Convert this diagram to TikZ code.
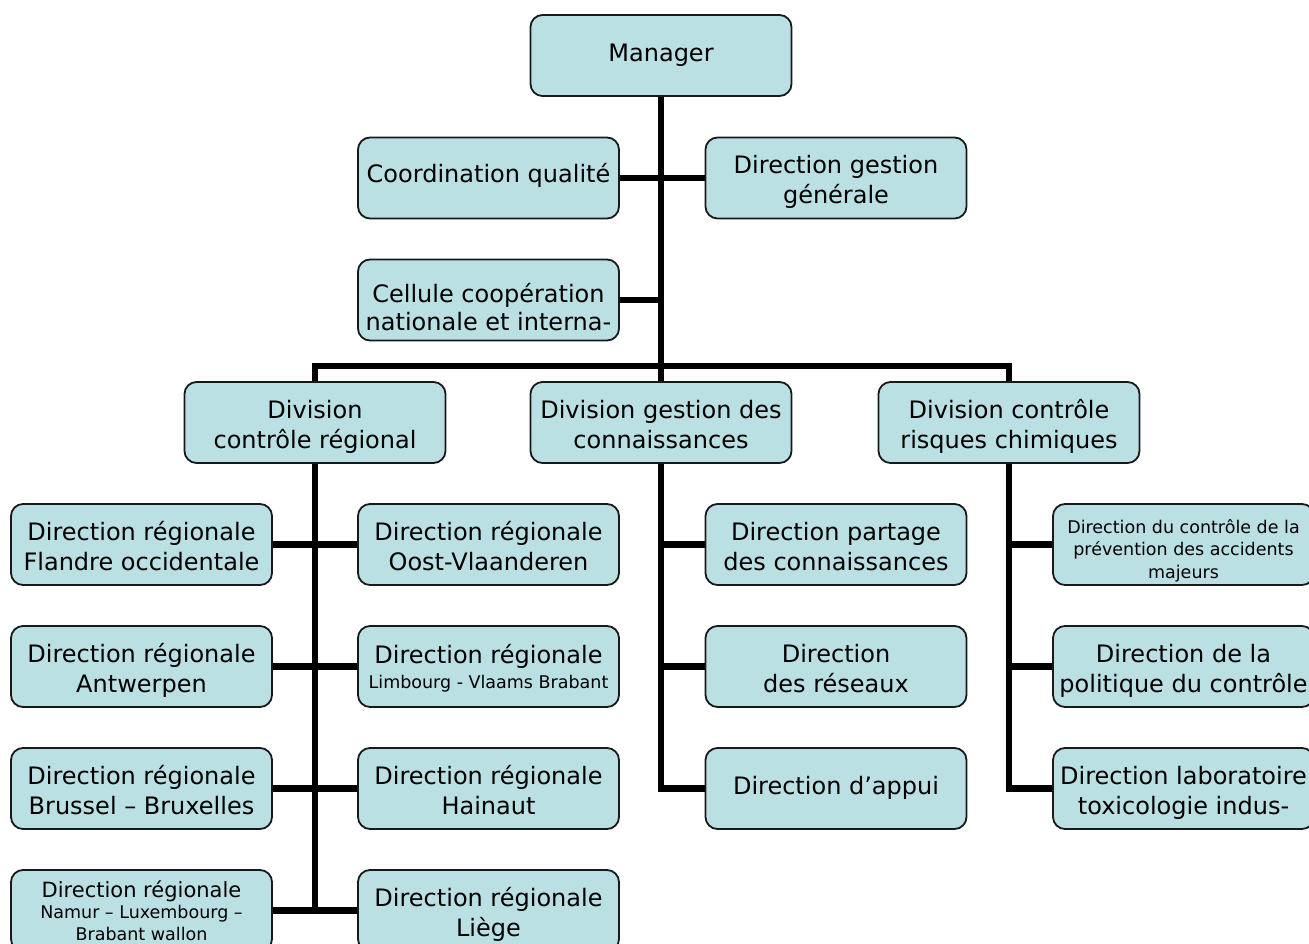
\documentclass[tikz,border=0pt]{standalone}
\usepackage{fontspec}
\setmainfont{DejaVu Sans}
\definecolor{boxfill}{RGB}{187,224,227}
\definecolor{boxline}{RGB}{25,25,25}
% text block moved vertically without changing its reported size
\newcommand{\bt}[2]{\raisebox{#1}[\height][\depth]{\begin{tabular}{@{}c@{}}#2\end{tabular}}}
\tikzset{
  orgbox/.style={draw=boxline, line width=1.8pt, rounded corners=12pt, fill=boxfill,
    minimum width=261pt, minimum height=81pt, inner sep=0pt, align=center,
    font=\fontsize{24}{30}\selectfont},
  smallbox/.style={orgbox, font=\fontsize{17.5}{22.5}\selectfont},
  link/.style={line width=6.5pt, draw=black}
}
\begin{document}
\begin{tikzpicture}[x=1pt,y=-1pt]
\clip (0,0) rectangle (1309,944);
\fill[white] (0,0) rectangle (1309,944);
% top
\node[orgbox] (mgr) at (661,55.5) {\bt{0pt}{Manager}};
\node[orgbox] (coord) at (488.5,178) {\bt{1pt}{Coordination qualité}};
\node[orgbox] (dgg) at (836,178) {\bt{-4.5pt}{Direction gestion\\générale}};
\node[orgbox] (cell) at (488.5,300) {\bt{-10pt}{Cellule coopération\\[-2pt]nationale et interna-}};
% divisions
\node[orgbox] (div1) at (315,422.5) {\bt{-4.5pt}{Division\\contrôle régional}};
\node[orgbox] (div2) at (661,422.5) {\bt{-4.5pt}{Division gestion des\\connaissances}};
\node[orgbox] (div3) at (1009,422.5) {\bt{-4.5pt}{Division contrôle\\risques chimiques}};
% regional left
\node[orgbox] (rl1) at (141.5,544.5) {\bt{-5pt}{Direction régionale\\Flandre occidentale}};
\node[orgbox] (rl2) at (141.5,666.5) {\bt{-5pt}{Direction régionale\\Antwerpen}};
\node[orgbox] (rl3) at (141.5,788.5) {\bt{-5pt}{Direction régionale\\Brussel – Bruxelles}};
\node[smallbox, font=\fontsize{17.5}{21.5}\selectfont] (rl4) at (141.5,910.5) {{\fontsize{21}{21}\selectfont Direction régionale}\\Namur – Luxembourg –\\Brabant wallon};
% regional right
\node[orgbox] (rr1) at (488.5,544.5) {\bt{-5pt}{Direction régionale\\Oost-Vlaanderen}};
\node[orgbox] (rr2) at (488.5,666.5) {\bt{-3.5pt}{Direction régionale\\[-5pt]{\fontsize{17.5}{21}\selectfont Limbourg - Vlaams Brabant}}};
\node[orgbox] (rr3) at (488.5,788.5) {\bt{-5pt}{Direction régionale\\Hainaut}};
\node[orgbox] (rr4) at (488.5,910.5) {\bt{-5pt}{Direction régionale\\Liège}};
% middle
\node[orgbox] (m1) at (836,544.5) {\bt{-5pt}{Direction partage\\des connaissances}};
\node[orgbox] (m2) at (836,666.5) {\bt{-5pt}{Direction\\des réseaux}};
\node[orgbox] (m3) at (836,788.5) {\bt{0.5pt}{Direction d’appui}};
% right
\node[smallbox] (c1) at (1183.5,544.5) {\bt{-6.5pt}{Direction du contrôle de la\\prévention des accidents\\majeurs}};
\node[orgbox] (c2) at (1183.5,666.5) {\bt{-4.5pt}{Direction de la\\politique du contrôle}};
\node[orgbox] (c3) at (1183.5,788.5) {\bt{-4.5pt}{Direction laboratoire\\toxicologie indus-}};
% connectors
\coordinate (j) at (661,366);
\draw[link] (mgr.south) -- (j);
\draw[link] (coord.east) -- (dgg.west);
\draw[link] (cell.east) -- (cell.east -| mgr.south);
\draw[link] (div1.north) |- (j) -| (div3.north);
\draw[link] (j) -- (div2.north);
% division 1
\draw[link] (div1.south) -- (div1.south |- rl4.east);
\draw[link] (rl1.east) -- (rr1.west);
\draw[link] (rl2.east) -- (rr2.west);
\draw[link] (rl3.east) -- (rr3.west);
\draw[link] (rl4.east) -- (rr4.west);
% division 2
\draw[link] (div2.south) |- (m3.west);
\draw[link] (m1.west) -- (m1.west -| div2.south);
\draw[link] (m2.west) -- (m2.west -| div2.south);
% division 3
\draw[link] (div3.south) |- (c3.west);
\draw[link] (c1.west) -- (c1.west -| div3.south);
\draw[link] (c2.west) -- (c2.west -| div3.south);
\end{tikzpicture}
\end{document}
